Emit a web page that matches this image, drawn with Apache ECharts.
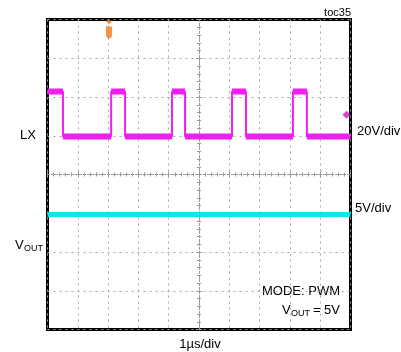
<!DOCTYPE html>
<html lang="en">
<head>
    <meta charset="UTF-8">
    <title>LX / VOUT scope capture</title>
    <script src="https://cdn.jsdelivr.net/npm/echarts@6/dist/echarts.min.js"></script>
    <style>
        html, body { margin: 0; padding: 0; background: #fff; }
        #main { width: 401px; height: 352px; }
    </style>
</head>
<body>
    <div id="main"></div>
    <script>
        // time axis in µs (1µs/div, trigger centred), vertical in divisions
        var timeRange = [-5, 5]
        var divRange = [-4, 4]
        // LX switching node edges (µs)
        var lxRiseUs = [-2.90, -0.89, 1.09, 3.10]
        var lxFallUs = [-4.49, -2.44, -0.46, 1.55, 3.56]
        var lxHighDiv = 2.14
        var lxLowDiv = 0.98
        var lxGroundDiv = 1.54
        // VOUT trace (divisions)
        var voutTime = [-5, 5]
        var voutDiv = [-1.03, -1.03]
        var triggerUs = -2.97

        var font = 'Liberation Sans, Arial, sans-serif'
        var magenta = '#f01ef0'
        var cyan = '#16e2ec'

        // build LX trace: edges (thin) and plateaus (thick band)
        var edges = []
        lxRiseUs.forEach(function (t) { edges.push({ t: t, up: true }) })
        lxFallUs.forEach(function (t) { edges.push({ t: t, up: false }) })
        edges.sort(function (a, b) { return a.t - b.t })

        var lxLine = []
        var lxBand = []
        var level = lxHighDiv // trace starts high at left edge
        var start = timeRange[0]
        edges.forEach(function (e) {
            lxLine.push([start, level], [e.t, level])
            lxBand.push([start, level], [e.t, level], null)
            level = e.up ? lxHighDiv : lxLowDiv
            lxLine.push([e.t, level])
            start = e.t
        })
        lxLine.push([timeRange[1], level])
        lxBand.push([start, level], [timeRange[1], level])

        var dotted = { color: '#a8a8a8', width: 1, type: [2, 4] }

        function centreAxis(pos) {
            var horiz = pos === 'bottom' || pos === 'top'
            return {
                type: 'value', position: pos,
                min: horiz ? timeRange[0] : divRange[0],
                max: horiz ? timeRange[1] : divRange[1],
                interval: 1,
                axisLine: { show: true, onZero: true, lineStyle: { color: '#999', width: 1, type: [2, 2] } },
                axisTick: { show: true, inside: true, length: 3, lineStyle: { color: '#999' } },
                minorTick: { show: true, splitNumber: 5, length: 2, lineStyle: { color: '#999' } },
                axisLabel: { show: false },
                splitLine: { show: false }
            }
        }

        var xMain = centreAxis('bottom')
        xMain.splitLine = { show: true, lineStyle: dotted }
        var yMain = centreAxis('left')
        yMain.splitLine = { show: true, lineStyle: dotted }

        var chart = echarts.init(document.getElementById('main'))
        var option = {
            animation: false,
            grid: {
                left: 47.5, top: 19.5, width: 303, height: 310,
                show: true, borderColor: '#000', borderWidth: 3,
                backgroundColor: '#fff',
                outerBoundsMode: 'none'
            },
            xAxis: [xMain, centreAxis('top')],
            yAxis: [yMain, centreAxis('right')],
            series: [
                {
                    type: 'line', data: lxLine, showSymbol: false, symbol: 'none',
                    lineStyle: { color: magenta, width: 2 }, z: 3
                },
                {
                    type: 'line', data: lxBand, showSymbol: false, symbol: 'none',
                    connectNulls: false,
                    lineStyle: { color: magenta, width: 6 }, z: 3
                },
                {
                    type: 'line', data: voutTime.map(function (t, i) { return [t, voutDiv[i]] }),
                    showSymbol: false, symbol: 'none',
                    lineStyle: { color: cyan, width: 5 }, z: 3
                },
                {
                    // LX ground reference marker, just inside the right border
                    type: 'scatter', data: [[timeRange[1], lxGroundDiv]],
                    symbol: 'diamond', symbolSize: [8, 8], symbolOffset: [-4, 0],
                    itemStyle: { color: '#c21cbf' }, clip: false, z: 2
                },
                {
                    // trigger position marker
                    type: 'scatter', data: [[triggerUs, divRange[1]]],
                    symbol: 'path://M0,0 L8,0 L4,4 Z M0.5,6 L7.5,6 L7.5,14 Q7.5,18 4,18 Q0.5,18 0.5,14 Z',
                    symbolSize: [7, 18], symbolOffset: [0, 10],
                    itemStyle: { color: '#f07a1c' }, clip: false, z: 4
                }
            ],
            graphic: [
                { type: 'text', x: 351, y: 13, style: { text: 'toc35', font: '11px ' + font, fill: '#000', align: 'right', verticalAlign: 'middle' } },
                { type: 'text', x: 28, y: 135, style: { text: 'LX', font: '13px ' + font, fill: '#000', align: 'center', verticalAlign: 'middle' } },
                { type: 'text', x: 357, y: 131, style: { text: '20V/div', font: '13px ' + font, fill: '#000', align: 'left', verticalAlign: 'middle' } },
                { type: 'text', x: 355, y: 208, style: { text: '5V/div', font: '13px ' + font, fill: '#000', align: 'left', verticalAlign: 'middle' } },
                { type: 'text', x: 15, y: 245, style: { text: 'V', font: '13px ' + font, fill: '#000', align: 'left', verticalAlign: 'middle' } },
                { type: 'text', x: 24, y: 249, style: { text: 'OUT', font: '9px ' + font, fill: '#000', align: 'left', verticalAlign: 'middle' } },
                { type: 'text', x: 340, y: 291, style: { text: 'MODE: PWM', font: '13px ' + font, fill: '#000', align: 'right', verticalAlign: 'middle' } },
                { type: 'text', x: 282, y: 310, style: { text: 'V', font: '13px ' + font, fill: '#000', align: 'left', verticalAlign: 'middle' } },
                { type: 'text', x: 291, y: 314, style: { text: 'OUT', font: '9px ' + font, fill: '#000', align: 'left', verticalAlign: 'middle' } },
                { type: 'text', x: 340, y: 310, style: { text: '= 5V', font: '13px ' + font, fill: '#000', align: 'right', verticalAlign: 'middle' } },
                { type: 'text', x: 200, y: 344, style: { text: '1µs/div', font: '13px ' + font, fill: '#000', align: 'center', verticalAlign: 'middle' } }
            ]
        }
        chart.setOption(option)
    </script>
</body>
</html>
